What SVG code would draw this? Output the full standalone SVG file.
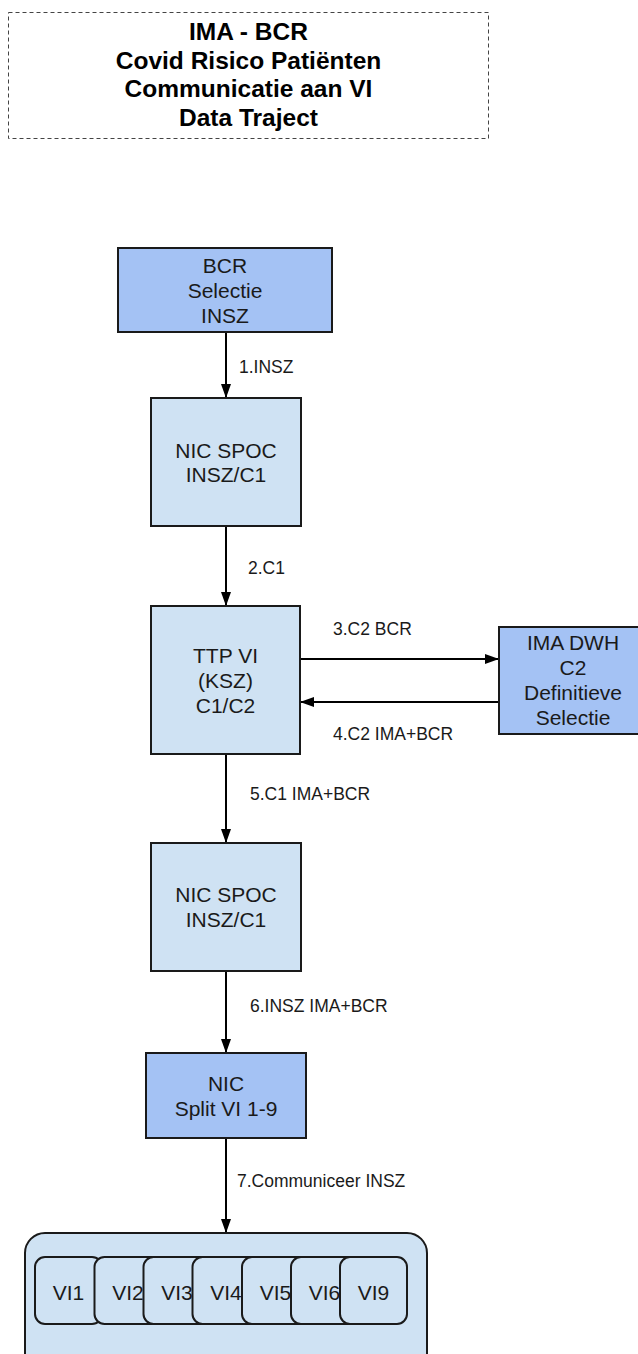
<svg xmlns="http://www.w3.org/2000/svg" width="638" height="1354" viewBox="0 0 638 1354">
<style>
  .t{font-family:"Liberation Sans",Arial,sans-serif;font-size:21px;fill:#1a1a1a;text-anchor:middle}
  .title{font-family:"Liberation Sans",Arial,sans-serif;font-size:24.5px;font-weight:bold;fill:#000;text-anchor:middle}
  .lbl{font-family:"Liberation Sans",Arial,sans-serif;font-size:17.5px;fill:#1a1a1a}
  .dark{fill:#a4c2f4;stroke:#1a1a1a;stroke-width:2}
  .light{fill:#cfe2f3;stroke:#1a1a1a;stroke-width:2}
  .edge{stroke:#000;stroke-width:2;fill:none;marker-end:url(#arr)}
</style>
<defs>
  <marker id="arr" markerWidth="14" markerHeight="10" refX="14" refY="5" orient="auto" markerUnits="userSpaceOnUse">
    <path d="M0,0 L14,5 L0,10 Z" fill="#000"/>
  </marker>
</defs>
<rect width="638" height="1354" fill="#fff"/>

<g id="title">
  <rect x="8.5" y="12.5" width="480" height="126" fill="none" stroke="#444" stroke-width="1" stroke-dasharray="4,3"/>
  <text class="title" x="248.5" y="40">IMA - BCR</text>
  <text class="title" x="248.5" y="68.5">Covid Risico Patiënten</text>
  <text class="title" x="248.5" y="97">Communicatie aan VI</text>
  <text class="title" x="248.5" y="125.5">Data Traject</text>
</g>

<g id="connectors">
  <line class="edge" x1="226" y1="332" x2="226" y2="398"/>
  <line class="edge" x1="226" y1="526" x2="226" y2="606"/>
  <line class="edge" x1="300" y1="659" x2="499" y2="659"/>
  <line class="edge" x1="499" y1="702" x2="300" y2="702"/>
  <line class="edge" x1="226" y1="754" x2="226" y2="843"/>
  <line class="edge" x1="226" y1="971" x2="226" y2="1053"/>
  <line class="edge" x1="226" y1="1138" x2="226" y2="1233"/>
  <text class="lbl" x="239" y="373">1.INSZ</text>
  <text class="lbl" x="248" y="574">2.C1</text>
  <text class="lbl" x="333" y="635">3.C2 BCR</text>
  <text class="lbl" x="333" y="740">4.C2 IMA+BCR</text>
  <text class="lbl" x="250" y="800">5.C1 IMA+BCR</text>
  <text class="lbl" x="250" y="1012">6.INSZ IMA+BCR</text>
  <text class="lbl" x="237" y="1187">7.Communiceer INSZ</text>
</g>

<g id="bcr">
  <rect class="dark" x="118" y="248" width="214" height="84"/>
  <text class="t" x="225" y="273">BCR</text>
  <text class="t" x="225" y="298">Selectie</text>
  <text class="t" x="225" y="323">INSZ</text>
</g>

<g id="nicspoc1">
  <rect class="light" x="151" y="398" width="150" height="128"/>
  <text class="t" x="226" y="458">NIC SPOC</text>
  <text class="t" x="226" y="482">INSZ/C1</text>
</g>

<g id="ttp">
  <rect class="light" x="151" y="606" width="149" height="148"/>
  <text class="t" x="225.5" y="663">TTP VI</text>
  <text class="t" x="225.5" y="688">(KSZ)</text>
  <text class="t" x="225.5" y="713">C1/C2</text>
</g>

<g id="imadwh">
  <rect class="dark" x="499" y="627" width="148" height="107"/>
  <text class="t" x="573" y="650">IMA DWH</text>
  <text class="t" x="573" y="675">C2</text>
  <text class="t" x="573" y="700">Definitieve</text>
  <text class="t" x="573" y="725">Selectie</text>
</g>

<g id="nicspoc2">
  <rect class="light" x="151" y="843" width="150" height="128"/>
  <text class="t" x="226" y="902">NIC SPOC</text>
  <text class="t" x="226" y="927">INSZ/C1</text>
</g>

<g id="nicsplit">
  <rect class="dark" x="146" y="1053" width="160" height="85"/>
  <text class="t" x="226" y="1091">NIC</text>
  <text class="t" x="226" y="1116">Split VI 1-9</text>
</g>

<g id="vi-container">
  <rect class="light" x="25" y="1233" width="402" height="150" rx="20" ry="20"/>
</g>
<g id="vi1"><rect class="light" x="35" y="1257" width="67" height="67" rx="10"/><text class="t" x="68.5" y="1300">VI1</text></g>
<g id="vi2"><rect class="light" x="94.5" y="1257" width="67" height="67" rx="10"/><text class="t" x="128" y="1300">VI2</text></g>
<g id="vi3"><rect class="light" x="143.5" y="1257" width="67" height="67" rx="10"/><text class="t" x="177" y="1300">VI3</text></g>
<g id="vi4"><rect class="light" x="192.5" y="1257" width="67" height="67" rx="10"/><text class="t" x="226" y="1300">VI4</text></g>
<g id="vi5"><rect class="light" x="242" y="1257" width="67" height="67" rx="10"/><text class="t" x="275.5" y="1300">VI5</text></g>
<g id="vi6"><rect class="light" x="291" y="1257" width="67" height="67" rx="10"/><text class="t" x="324.5" y="1300">VI6</text></g>
<g id="vi9"><rect class="light" x="340" y="1257" width="67" height="67" rx="10"/><text class="t" x="373.5" y="1300">VI9</text></g>
</svg>
